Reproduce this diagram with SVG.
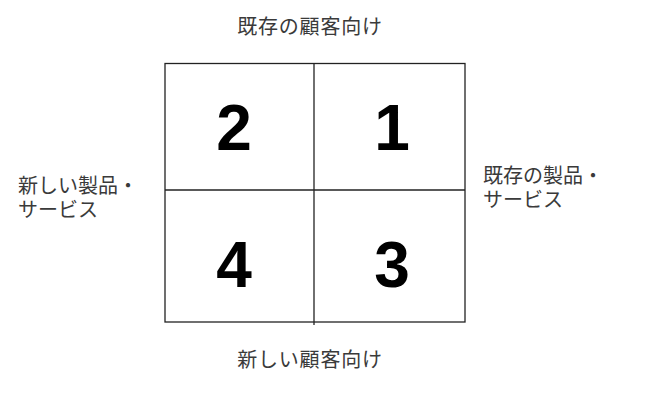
<svg xmlns="http://www.w3.org/2000/svg" width="645" height="401" viewBox="0 0 645 401">
<style>
.lbl{font-family:"Liberation Sans","Noto Sans CJK JP",sans-serif;font-size:20px;fill:#3a3a3a}
.num{font-family:"Liberation Sans",Arial,sans-serif;font-size:64px;font-weight:bold;fill:#000;text-anchor:middle}
.ln{stroke:#222;stroke-width:1.3;fill:none}
</style>
<rect width="645" height="401" fill="#fff"/>
<g id="connectors">
<rect class="ln" x="165" y="63.5" width="300" height="258.5"/>
<line class="ln" x1="314" y1="63" x2="314" y2="325"/>
<line class="ln" x1="165" y1="190" x2="465" y2="190"/>
</g>
<g id="q2"><text class="num" x="234" y="150">2</text></g>
<g id="q1"><text class="num" x="392" y="150">1</text></g>
<g id="q4"><text class="num" x="234" y="287">4</text></g>
<g id="q3"><text class="num" x="392" y="287">3</text></g>
<g id="top-label"><text class="lbl" x="310" y="34" text-anchor="middle" letter-spacing="0.8">既存の顧客向け</text></g>
<g id="bottom-label"><text class="lbl" x="310" y="367" text-anchor="middle" letter-spacing="0.8">新しい顧客向け</text></g>
<g id="left-label"><text class="lbl" x="18" y="193">新しい製品・</text><text class="lbl" x="18" y="217">サービス</text></g>
<g id="right-label"><text class="lbl" x="483" y="183">既存の製品・</text><text class="lbl" x="483" y="207">サービス</text></g>
</svg>
